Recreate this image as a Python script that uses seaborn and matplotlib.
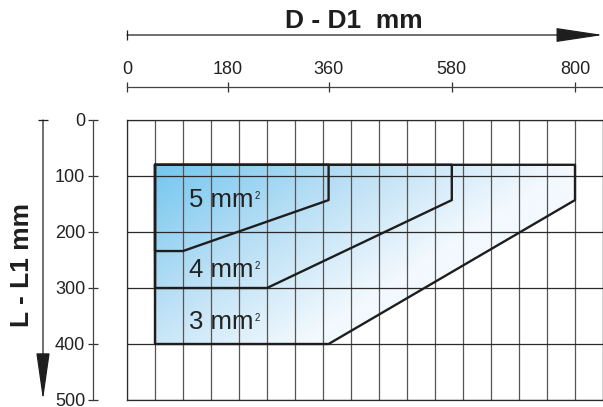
import numpy as np
import seaborn as sns
import matplotlib.pyplot as plt
from matplotlib.patches import Polygon
from matplotlib.colors import LinearSegmentedColormap

# Datos de las zonas (D - D1 mm, L - L1 mm)
zone_labels = ["5 mm", "4 mm", "3 mm"]
zone_sup = ["2", "2", "2"]
zone_x = [
    [50, 360, 360, 100, 50, 50],
    [50, 580, 580, 250, 50, 50],
    [50, 800, 800, 360, 50, 50],
]
zone_y = [
    [80, 80, 143, 234, 234, 80],
    [80, 80, 143, 300, 300, 80],
    [80, 80, 143, 400, 400, 80],
]
label_x = [110, 110, 110]
label_y = [155, 280, 373]

top_ticks = [0, 180, 360, 580, 800]
left_ticks = [0, 100, 200, 300, 400, 500]

sns.set_style("white")
plt.rcParams["font.family"] = ["Liberation Sans", "DejaVu Sans"]

fig = plt.figure(figsize=(6.03, 4.07), dpi=100)
ax = fig.add_axes([127 / 603, 7 / 407, 476 / 603, 280 / 407])
ax.set_xlim(0, 850)
ax.set_ylim(500, 0)

# Rejilla
ax.set_xticks(np.arange(0, 851, 50))
ax.set_yticks(left_ticks)
ax.xaxis.grid(True, color="#555555", lw=0.9)
ax.yaxis.grid(True, color="#2a2a2a", lw=0.9)
ax.tick_params(length=0, labelleft=False, labelbottom=False)
for sp in ax.spines.values():
    sp.set_color("#2a2a2a")
    sp.set_linewidth(0.9)

# Degradado azul dentro de la zona exterior
gx, gy = np.meshgrid(np.linspace(50, 800, 300), np.linspace(80, 400, 200))
t = np.clip((gx - 50) / 750 + 0.65 * (gy - 80) / 320, 0, 1)
cmap = LinearSegmentedColormap.from_list("azul", ["#74c6ef", "#b8dff5", "#f3f9fe"])
im = ax.imshow(t, cmap=cmap, extent=(50, 800, 400, 80), origin="upper",
               aspect="auto", interpolation="bilinear", vmin=0, vmax=1)
clip = Polygon(np.column_stack([zone_x[2], zone_y[2]]), closed=True,
               facecolor="none", edgecolor="none", transform=ax.transData)
ax.add_patch(clip)
im.set_clip_path(clip)

# Contornos
for xs, ys in zip(zone_x, zone_y):
    sns.lineplot(x=xs, y=ys, sort=False, estimator=None, color="#1e1e1e",
                 lw=1.7, ax=ax, zorder=3)
ax.set_xlim(0, 850)
ax.set_ylim(500, 0)
ax.set_xlabel("")
ax.set_ylabel("")

for lab, sup, lx, ly in zip(zone_labels, zone_sup, label_x, label_y):
    txt = ax.text(lx, ly, lab, fontsize=18.5, va="baseline", ha="left",
                  color="#222222", zorder=4)
    ax.annotate(sup, xy=(1, 1), xycoords=txt, xytext=(1, -2), textcoords="offset points",
                fontsize=7, va="top", ha="left", color="#222222", zorder=4)

# Eje superior
sec_x = ax.secondary_xaxis((400 - 87) / 280)
sec_x.set_xticks(top_ticks)
sec_x.tick_params(direction="inout", length=7, width=0.9, pad=3,
                  labelsize=13, colors="#333333", labelcolor="#222222")
sec_x.spines["top"].set_color("#444444")
sec_x.spines["top"].set_linewidth(0.9)

# Eje izquierdo
sec_y = ax.secondary_yaxis((93 - 127) / 476)
sec_y.set_yticks(left_ticks)
sec_y.tick_params(direction="inout", length=7, width=0.9, pad=2,
                  labelsize=13, colors="#333333", labelcolor="#222222")
sec_y.spines["left"].set_color("#444444")
sec_y.spines["left"].set_linewidth(0.9)

# Flechas
ay = (400 - 35) / 280
ax.annotate("", xy=(850, ay), xytext=(0, ay), xycoords=ax.get_xaxis_transform(),
            arrowprops=dict(arrowstyle="-|>,head_length=3.0,head_width=0.45",
                            color="#1e1e1e", lw=0.9, shrinkA=0, shrinkB=0),
            annotation_clip=False)
ax.plot([0], [ay], marker="|", ms=7, mew=0.9, color="#1e1e1e",
        transform=ax.get_xaxis_transform(), clip_on=False)

axx = (43 - 127) / 476
ax.annotate("", xy=(axx, 500), xytext=(axx, 0), xycoords=ax.get_yaxis_transform(),
            arrowprops=dict(arrowstyle="-|>,head_length=3.0,head_width=0.43",
                            color="#1e1e1e", lw=0.9, shrinkA=0, shrinkB=0),
            annotation_clip=False)
ax.plot([axx], [0], marker="_", ms=7, mew=0.9, color="#1e1e1e",
        transform=ax.get_yaxis_transform(), clip_on=False)

fig.text(354 / 603, 1 - 28 / 407, "D - D1  mm", ha="center", va="baseline",
         fontsize=19, weight="bold", color="#1e1e1e")
fig.text(22 / 603, 1 - 265 / 407, "L - L1 mm", rotation=90, ha="center", va="center",
         fontsize=19, weight="bold", color="#1e1e1e")

fig.savefig("out.png", dpi=100)
